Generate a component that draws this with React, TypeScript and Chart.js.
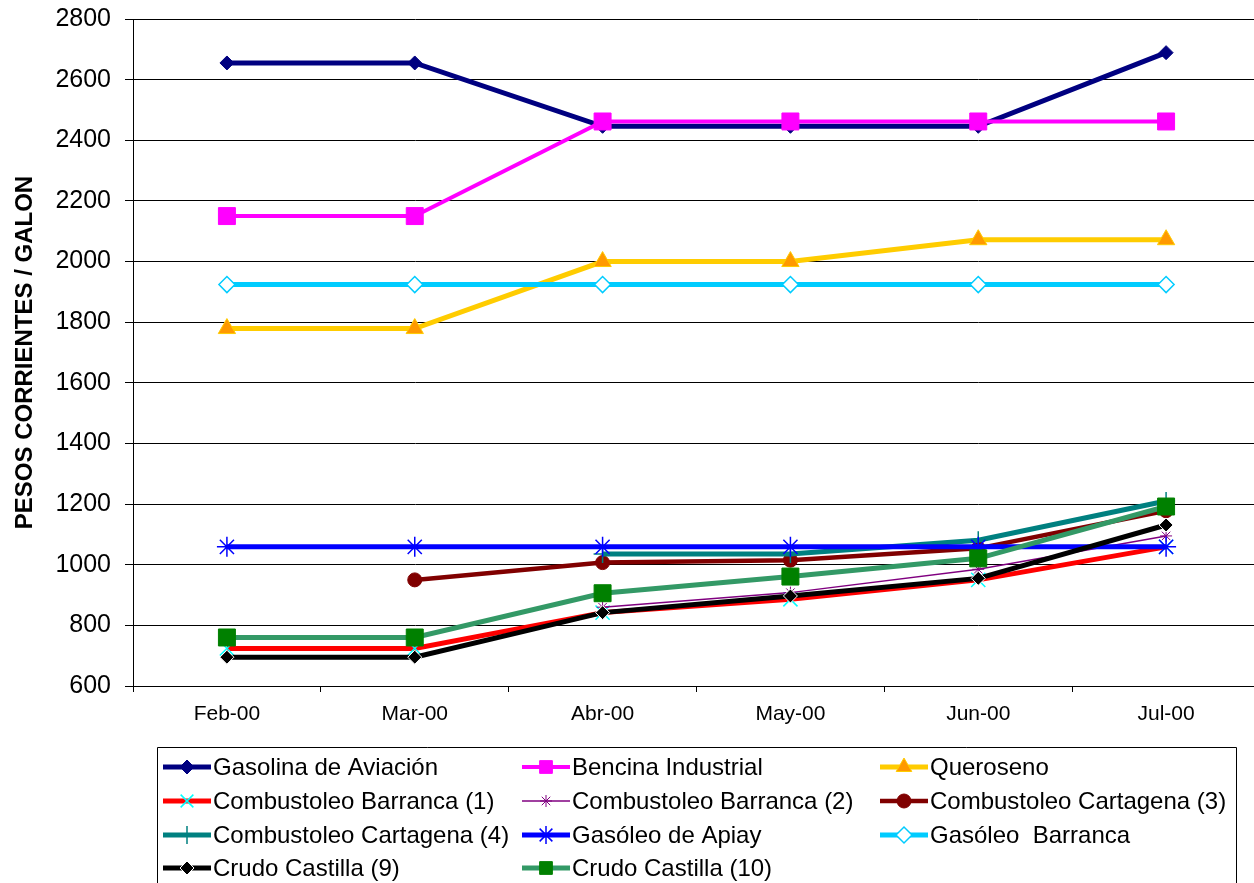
import React, { useEffect, useRef } from 'react';
import { Chart, registerables } from 'chart.js';
import { drawPoint } from 'chart.js/helpers';

Chart.register(...registerables);

const FONT = '"Liberation Sans", Arial, Helvetica, sans-serif';

const months = ['Feb-00', 'Mar-00', 'Abr-00', 'May-00', 'Jun-00', 'Jul-00'];
const yAxisTitle = 'PESOS CORRIENTES / GALON';
const yMin = 600;
const yMax = 2800;
const yStep = 200;

const seriesNames = [
  'Gasolina de Aviación',
  'Bencina Industrial',
  'Queroseno',
  'Combustoleo Barranca (1)',
  'Combustoleo Barranca (2)',
  'Combustoleo Cartagena (3)',
  'Combustoleo Cartagena (4)',
  'Gasóleo de Apiay',
  'Gasóleo  Barranca',
  'Crudo Castilla (9)',
  'Crudo Castilla (10)',
];

const gasolinaAviacion: (number | null)[] = [2655, 2655, 2446, 2446, 2446, 2689];
const bencinaIndustrial: (number | null)[] = [2150, 2150, 2462, 2462, 2462, 2462];
const queroseno: (number | null)[] = [1779, 1779, 2000, 2000, 2072, 2072];
const combustoleoBarranca1: (number | null)[] = [724, 724, 842, 886, 950, 1059];
const combustoleoBarranca2: (number | null)[] = [null, null, 860, 908, 985, 1095];
const combustoleoCartagena3: (number | null)[] = [null, 950, 1007, 1015, 1054, 1178];
const combustoleoCartagena4: (number | null)[] = [null, null, 1035, 1035, 1081, 1210];
const gasoleoApiay: (number | null)[] = [1059, 1059, 1059, 1059, 1059, 1059];
const gasoleoBarranca: (number | null)[] = [1924, 1924, 1924, 1924, 1924, 1924];
const crudoCastilla9: (number | null)[] = [695, 695, 842, 897, 955, 1131];
const crudoCastilla10: (number | null)[] = [760, 760, 906, 961, 1021, 1192];

type Style = {
  line: string;
  width: number;
  point: string;
  radius: number;
  fill: string;
  stroke: string;
  strokeWidth: number;
};

const styles: Style[] = [
  { line: '#000080', width: 5, point: 'rectRot', radius: 7, fill: '#000080', stroke: '#000080', strokeWidth: 1 },
  { line: '#FF00FF', width: 4, point: 'rect', radius: 12, fill: '#FF00FF', stroke: '#FF00FF', strokeWidth: 1 },
  { line: '#FFCC00', width: 5, point: 'triangle', radius: 10, fill: '#FF9900', stroke: '#FFCC00', strokeWidth: 1 },
  { line: '#FF0000', width: 5, point: 'crossRot', radius: 10, fill: '#00FFFF', stroke: '#00FFFF', strokeWidth: 1.5 },
  { line: '#800080', width: 1.5, point: 'star', radius: 6, fill: '#800080', stroke: '#800080', strokeWidth: 1 },
  { line: '#800000', width: 4.5, point: 'circle', radius: 7, fill: '#800000', stroke: '#800000', strokeWidth: 1 },
  { line: '#008080', width: 5, point: 'cross', radius: 9, fill: '#008080', stroke: '#008080', strokeWidth: 1.5 },
  { line: '#0000FF', width: 5, point: 'star', radius: 10, fill: '#0000FF', stroke: '#0000FF', strokeWidth: 1.5 },
  { line: '#00CCFF', width: 5, point: 'rectRot', radius: 8, fill: '#FFFFFF', stroke: '#00CCFF', strokeWidth: 1.5 },
  { line: '#000000', width: 5, point: 'rectRot', radius: 7, fill: '#000000', stroke: '#FFFFFF', strokeWidth: 1 },
  { line: '#339966', width: 5, point: 'rect', radius: 12, fill: '#008000', stroke: '#008000', strokeWidth: 1 },
];

const seriesData = [
  gasolinaAviacion,
  bencinaIndustrial,
  queroseno,
  combustoleoBarranca1,
  combustoleoBarranca2,
  combustoleoCartagena3,
  combustoleoCartagena4,
  gasoleoApiay,
  gasoleoBarranca,
  crudoCastilla9,
  crudoCastilla10,
];

const CANVAS_W = 1260;
const CANVAS_H = 883;

const boxLegend = {
  id: 'boxLegend',
  afterDraw(chart: any) {
    const ctx = chart.ctx as CanvasRenderingContext2D;
    const left = 157;
    const right = 1236;
    const top = 747;
    ctx.save();
    ctx.strokeStyle = '#000';
    ctx.lineWidth = 1;
    ctx.beginPath();
    ctx.moveTo(left + 0.5, chart.height + 10);
    ctx.lineTo(left + 0.5, top + 0.5);
    ctx.lineTo(right + 0.5, top + 0.5);
    ctx.lineTo(right + 0.5, chart.height + 10);
    ctx.stroke();

    const colX = [163, 522, 880];
    const rowY = [767, 801, 835, 868];
    chart.data.datasets.forEach((ds: any, i: number) => {
      const col = i % 3;
      const row = Math.floor(i / 3);
      const x0 = colX[col];
      const y = rowY[row];
      const st = styles[i];
      ctx.save();
      ctx.strokeStyle = st.line;
      ctx.lineWidth = st.width;
      ctx.lineCap = 'butt';
      ctx.beginPath();
      ctx.moveTo(x0, y);
      ctx.lineTo(x0 + 48, y);
      ctx.stroke();
      ctx.fillStyle = st.fill;
      ctx.strokeStyle = st.stroke;
      ctx.lineWidth = st.strokeWidth;
      drawPoint(ctx, { pointStyle: st.point as any, rotation: 0, radius: Math.min(st.radius, 9), borderWidth: st.strokeWidth }, x0 + 24, y);
      ctx.restore();
      ctx.fillStyle = '#000';
      ctx.font = `24px ${FONT}`;
      ctx.textBaseline = 'middle';
      ctx.textAlign = 'left';
      ctx.fillText(ds.label, x0 + 50, y + 1);
    });
    ctx.restore();
  },
};

export default function App() {
  const canvasRef = useRef<HTMLCanvasElement | null>(null);

  useEffect(() => {
    const canvas = canvasRef.current;
    if (!canvas) return;
    const n = seriesData.length;
    const datasets = seriesData.map((data, i) => {
      const st = styles[i];
      return {
        label: seriesNames[i],
        data,
        order: n - i,
        borderColor: st.line,
        backgroundColor: st.fill,
        borderWidth: st.width,
        tension: 0,
        spanGaps: false,
        fill: false,
        clip: false,
        pointStyle: st.point,
        pointRadius: st.radius,
        pointHoverRadius: st.radius,
        pointBackgroundColor: st.fill,
        pointBorderColor: st.stroke,
        pointBorderWidth: st.strokeWidth,
      };
    });

    const chart = new Chart(canvas, {
      type: 'line',
      data: { labels: months, datasets: datasets as any },
      options: {
        animation: false,
        responsive: false,
        maintainAspectRatio: false,
        devicePixelRatio: 1,
        layout: { autoPadding: false, padding: { top: 19, right: 0, bottom: 156, left: 0 } },
        plugins: {
          legend: { display: false },
          tooltip: { enabled: false },
        },
        scales: {
          x: {
            type: 'category',
            offset: true,
            grid: {
              display: true,
              drawOnChartArea: false,
              offset: true,
              tickLength: 6,
              color: '#000',
              lineWidth: 1,
            },
            border: { display: true, color: '#000', width: 1 },
            ticks: {
              color: '#000',
              font: { family: FONT, size: 21 },
              padding: 10,
              maxRotation: 0,
              autoSkip: false,
            },
            afterFit: (s: any) => {
              s.height = 41;
              s.paddingLeft = 0;
              s.paddingRight = 0;
            },
          },
          y: {
            min: yMin,
            max: yMax,
            ticks: {
              stepSize: yStep,
              color: '#000',
              font: { family: FONT, size: 25 },
              padding: 14,
              callback: (v: any) => String(v),
            },
            grid: { color: '#000', lineWidth: 1, tickLength: 8 },
            border: { display: true, color: '#000', width: 1 },
            title: {
              display: true,
              text: yAxisTitle,
              color: '#000',
              font: { family: FONT, size: 24, weight: 'bold' },
              padding: { top: 11, bottom: 4 },
            },
            afterFit: (s: any) => {
              s.width = 133;
              s.paddingTop = 0;
              s.paddingBottom = 0;
            },
          },
        },
      } as any,
      plugins: [boxLegend],
    });

    return () => {
      chart.destroy();
    };
  }, []);

  return (
    <div style={{ position: 'fixed', left: 0, top: 0, width: CANVAS_W, height: CANVAS_H, background: '#fff' }}>
      <canvas ref={canvasRef} width={CANVAS_W} height={CANVAS_H} style={{ display: 'block', width: CANVAS_W, height: CANVAS_H }} />
    </div>
  );
}
